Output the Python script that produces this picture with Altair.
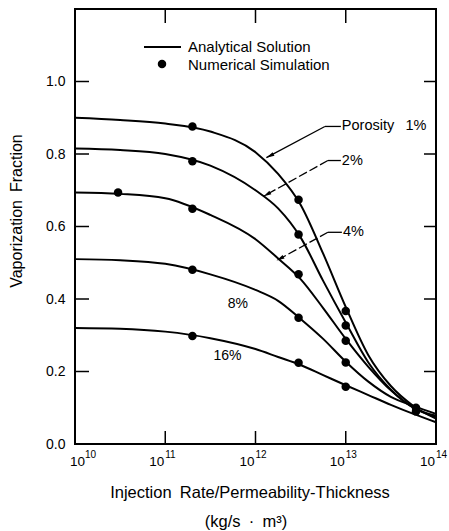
import altair as alt
import pandas as pd

FONT = "Liberation Sans"

# ---------------- data ----------------
# x: injection rate / permeability-thickness (kg/s·m^3)
x_grid = [1e10, 3.16e10, 1e11, 3.16e11, 1e12, 1.78e12, 3.16e12, 5.62e12,
          1e13, 1.78e13, 3.16e13, 5.62e13, 1e14]
analytic_1 = [0.900, 0.894, 0.884, 0.862, 0.805, 0.745, 0.660, 0.525, 0.378, 0.245, 0.160, 0.105, 0.070]
analytic_2 = [0.815, 0.811, 0.800, 0.768, 0.700, 0.650, 0.570, 0.450, 0.335, 0.225, 0.150, 0.100, 0.074]
analytic_4 = [0.694, 0.690, 0.678, 0.632, 0.565, 0.512, 0.455, 0.375, 0.290, 0.213, 0.148, 0.100, 0.078]
analytic_8 = [0.510, 0.507, 0.497, 0.468, 0.425, 0.395, 0.345, 0.290, 0.227, 0.172, 0.130, 0.105, 0.083]
analytic_16 = [0.320, 0.318, 0.310, 0.292, 0.262, 0.240, 0.218, 0.190, 0.162, 0.135, 0.108, 0.083, 0.060]
porosity = ["1%", "2%", "4%", "8%", "16%"]

num_x = [3e10, 2e11, 2e11, 2e11, 2e11, 2e11, 3e12, 3e12, 3e12, 3e12, 3e12,
         1e13, 1e13, 1e13, 1e13, 1e13, 6e13, 6e13]
num_v = [0.694, 0.876, 0.780, 0.649, 0.481, 0.298, 0.674, 0.578, 0.468, 0.348, 0.224,
         0.367, 0.327, 0.285, 0.225, 0.158, 0.100, 0.090]

# decade ticks / labels
x_ticks = [1e11, 1e12, 1e13]
x_label_pos = [1e10, 1e11, 1e12, 1e13, 1e14]
x_label_exp = ["10", "11", "12", "13", "14"]
y_ticks = [0.2, 0.4, 0.6, 0.8, 1.0]

# annotations with leader arrows
ann_text = ["Porosity\u2002 1%", "2%", "4%"]
ann_text_x = [8.83e12, 8.83e12, 9.06e12]
ann_y = [0.876, 0.782, 0.584]
ann_elbow_x = [5.87e12, 6.34e12, 6.34e12]
ann_tip_x = [1.32e12, 1.22e12, 1.71e12]
ann_tip_y = [0.790, 0.683, 0.506]
ann_angle = [242.5, 240.9, 241.1]
ann_dash = ["solid", "dash", "dash"]

curve_label = ["8%", "16%"]
curve_label_x = [6.38e11, 4.9e11]
curve_label_y = [0.387, 0.244]

# ---------------- tables ----------------
series = [analytic_1, analytic_2, analytic_4, analytic_8, analytic_16]
rows = []
for p, vals in zip(porosity, series):
    for x, v in zip(x_grid, vals):
        rows.append({"x": x, "v": v, "porosity": p})
curves = pd.DataFrame(rows)
points = pd.DataFrame({"x": num_x, "v": num_v})
ticks_x = pd.DataFrame({"x": x_ticks})
ticks_y = pd.DataFrame({"v": y_ticks})
xlab = pd.DataFrame({"x": x_label_pos, "base": ["10"] * 5, "exp": x_label_exp})
ann = pd.DataFrame({"text": ann_text, "tx": ann_text_x, "v": ann_y, "ex": ann_elbow_x,
                    "px": ann_tip_x, "pv": ann_tip_y, "ang": ann_angle, "dash": ann_dash})
clab = pd.DataFrame({"text": curve_label, "x": curve_label_x, "v": curve_label_y})

W, H = 361, 435
xscale = alt.Scale(type="log", domain=[1e10, 1e14], nice=False)
yscale = alt.Scale(domain=[0, 1.2], nice=False, zero=False)
yaxis = alt.Axis(values=[0, 0.2, 0.4, 0.6, 0.8, 1.0], format=".1f", labelFont=FONT,
                 labelFontSize=14, labelColor="black", ticks=False, domain=False,
                 grid=False, title=None, labelPadding=10)


def X(f):
    return alt.X(f, type="quantitative", scale=xscale, axis=None)


def Y(f):
    return alt.Y(f, type="quantitative", scale=yscale, axis=yaxis)


lines = alt.Chart(curves).mark_line(color="black", strokeWidth=2, interpolate="monotone").encode(
    x=X("x"), y=Y("v"), detail="porosity:N", order="x:Q")

dots = alt.Chart(points).mark_circle(color="black", size=72, opacity=1).encode(x=X("x"), y=Y("v"))

top_ticks = alt.Chart(ticks_x).mark_rule(color="black", strokeWidth=1.5).encode(
    x=X("x"), y=alt.value(0), y2=alt.value(14))
bot_ticks = alt.Chart(ticks_x).mark_rule(color="black", strokeWidth=1.5).encode(
    x=X("x"), y=alt.value(H), y2=alt.value(H - 13))
left_ticks = alt.Chart(ticks_y).mark_rule(color="black", strokeWidth=1.5).encode(
    y=Y("v"), x=alt.value(0), x2=alt.value(14))
right_ticks = alt.Chart(ticks_y).mark_rule(color="black", strokeWidth=1.5).encode(
    y=Y("v"), x=alt.value(W - 12), x2=alt.value(W))

first = alt.datum.exp == "10"
xl_base = alt.Chart(xlab).transform_filter(~first).mark_text(
    align="right", baseline="middle", font=FONT, fontSize=13.5, color="black", dx=-1).encode(
    x=X("x"), y=alt.value(H + 18), text="base:N")
xl_exp = alt.Chart(xlab).transform_filter(~first).mark_text(
    align="left", baseline="middle", font=FONT, fontSize=10, color="black", dx=0).encode(
    x=X("x"), y=alt.value(H + 11), text="exp:N")
xl_base0 = alt.Chart(xlab).transform_filter(first).mark_text(
    align="right", baseline="middle", font=FONT, fontSize=13.5, color="black", dx=10).encode(
    x=X("x"), y=alt.value(H + 18), text="base:N")
xl_exp0 = alt.Chart(xlab).transform_filter(first).mark_text(
    align="left", baseline="middle", font=FONT, fontSize=10, color="black", dx=10).encode(
    x=X("x"), y=alt.value(H + 11), text="exp:N")

# legend (drawn in the plot)
leg_line = alt.Chart(pd.DataFrame({"a": [0]})).mark_rule(color="black", strokeWidth=2).encode(
    x=alt.value(69), x2=alt.value(106), y=alt.value(38))
leg_dot = alt.Chart(pd.DataFrame({"a": [0]})).mark_circle(color="black", size=72, opacity=1).encode(
    x=alt.value(87), y=alt.value(55))
leg_txt = alt.Chart(pd.DataFrame({"t": ["Analytical Solution", "Numerical Simulation"],
                                  "yy": [38, 55.5]})).mark_text(
    align="left", baseline="middle", font=FONT, fontSize=15, color="black").encode(
    x=alt.value(113), y=alt.Y("yy:Q", scale=None), text="t:N")

# annotations
ann_h = alt.Chart(ann).mark_rule(color="black", strokeWidth=1.3).encode(
    x=X("ex"), x2="tx", y=Y("v"))
ann_d_solid = alt.Chart(ann).transform_filter(alt.datum.dash == "solid").mark_rule(
    color="black", strokeWidth=1.3).encode(x=X("ex"), x2="px", y=Y("v"), y2="pv")
ann_d_dash = alt.Chart(ann).transform_filter(alt.datum.dash == "dash").mark_rule(
    color="black", strokeWidth=1.3, strokeDash=[9, 3]).encode(x=X("ex"), x2="px", y=Y("v"), y2="pv")
ann_head = alt.Chart(ann).mark_point(
    shape="M0,0L-0.42,1.7L0.42,1.7Z", filled=True, color="black", size=90, opacity=1,
    strokeWidth=0).encode(x=X("px"), y=Y("pv"), angle=alt.Angle("ang:Q", scale=None))
ann_txt = alt.Chart(ann).mark_text(
    align="left", baseline="middle", font=FONT, fontSize=14.5, color="black", dx=1).encode(
    x=X("tx"), y=Y("v"), text="text:N")
clab_txt = alt.Chart(clab).mark_text(
    align="center", baseline="middle", font=FONT, fontSize=14, color="black").encode(
    x=X("x"), y=Y("v"), text="text:N")

# axis titles
ytitle = alt.Chart(pd.DataFrame({"t": ["Vaporization\u2002Fraction"]})).mark_text(
    angle=270, align="center", baseline="middle", font=FONT, fontSize=16, color="black").encode(
    x=alt.value(-58), y=alt.value(202), text="t:N")
xtitle = alt.Chart(pd.DataFrame({"t": ["Injection\u2002Rate/Permeability-Thickness",
                                       "(kg/s\u2002·\u2002m³)"],
                                 "xx": [175, 171], "yy": [484, 513]})).mark_text(
    align="center", baseline="middle", font=FONT, fontSize=16.5, color="black").encode(
    x=alt.X("xx:Q", scale=None), y=alt.Y("yy:Q", scale=None), text="t:N")

chart = alt.layer(
    lines, dots, top_ticks, bot_ticks, left_ticks, right_ticks,
    xl_base, xl_exp, xl_base0, xl_exp0,
    leg_line, leg_dot, leg_txt,
    ann_h, ann_d_solid, ann_d_dash, ann_head, ann_txt, clab_txt,
    ytitle, xtitle,
).properties(
    width=W, height=H,
    padding={"left": 75, "top": 9, "right": 13, "bottom": 87},
    autosize=alt.AutoSizeParams(type="none"),
    background="white",
).configure_view(stroke="black", strokeWidth=2)

chart.save("out.html", embed_options={"renderer": "svg", "actions": False})
